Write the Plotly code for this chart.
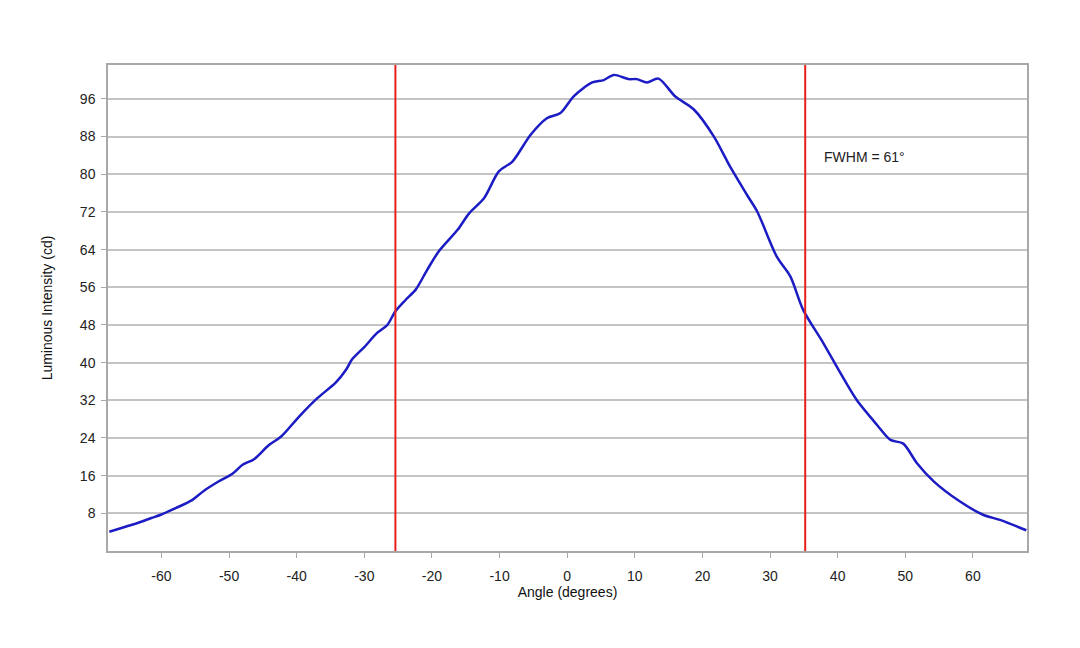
import plotly.graph_objects as go

# Angle (degrees) and luminous intensity (cd)
angle = [-67.7, -65.2, -63.3, -61.5, -60.1, -57.9, -55.6, -53.7, -51.5, -49.5, -48.0, -46.3,
         -44.1, -42.3, -39.6, -36.9, -34.2, -32.7, -31.8, -30.0, -28.1, -26.6, -25.4, -23.9,
         -22.4, -20.7, -19.0, -16.2, -14.5, -12.3, -10.1, -8.1, -5.4, -3.0, -1.0, 1.0,
         3.7, 5.4, 6.9, 9.1, 10.3, 11.8, 13.5, 16.0, 18.7, 21.7, 24.1, 26.6, 28.1, 31.0,
         33.0, 34.9, 37.9, 40.4, 42.8, 45.8, 47.8, 49.7, 51.7, 54.2, 58.1, 61.5, 64.0, 67.9]
intensity = [4.1, 5.2, 6.05, 7.0, 7.7, 9.1, 10.7, 12.8, 14.8, 16.4, 18.3, 19.5,
             22.5, 24.3, 28.6, 32.5, 35.8, 38.5, 40.7, 43.3, 46.3, 48.0, 50.9, 53.3,
             55.5, 59.7, 63.6, 68.2, 71.7, 74.9, 80.6, 82.7, 88.4, 91.9, 93.0, 96.6,
             99.5, 100.0, 101.1, 100.2, 100.2, 99.5, 100.3, 96.5, 93.8, 88.0, 81.6, 75.6, 72.1, 62.5,
             58.3, 51.2, 44.1, 37.8, 32.1, 26.8, 23.6, 22.8, 18.7, 14.8, 10.5, 7.7, 6.6, 4.4]

fwhm_left = -25.4
fwhm_right = 35.2
fwhm_label = "FWHM = 61°"
x_ticks = [-60, -50, -40, -30, -20, -10, 0, 10, 20, 30, 40, 50, 60]
x_tick_labels = ["-60", "-50", "-40", "-30", "-20", "-10", "0", "10", "20", "30", "40", "50", "60"]
y_ticks = [8, 16, 24, 32, 40, 48, 56, 64, 72, 80, 88, 96]
y_tick_labels = ["8", "16", "24", "32", "40", "48", "56", "64", "72", "80", "88", "96"]

font_family = "Liberation Sans, Arial, sans-serif"

fig = go.Figure()
fig.add_trace(go.Scatter(
    x=angle, y=intensity, mode="lines",
    line=dict(color="#1c1cc4", width=2.5, shape="spline", smoothing=0.8),
    showlegend=False, hoverinfo="x+y",
))

for xv in (fwhm_left, fwhm_right):
    fig.add_shape(type="line", xref="x", yref="paper", x0=xv, x1=xv, y0=0, y1=1,
                  line=dict(color="#e8201c", width=2))

fig.add_annotation(x=37.7, y=83.7, xref="x", yref="y", text=fwhm_label,
                   showarrow=False, xanchor="left", yanchor="middle",
                   font=dict(family=font_family, size=14, color="#222222"))

axis_common = dict(
    showline=True, linecolor="#a8a8a8", linewidth=1.5, mirror=True,
    ticks="outside", tickcolor="#a8a8a8", ticklen=5, tickwidth=1,
    tickfont=dict(family=font_family, size=14, color="#222222"),
    zeroline=False,
)

fig.update_xaxes(range=[-67.9, 68.0], tickvals=x_ticks, ticktext=x_tick_labels,
                 showgrid=False, ticklabelstandoff=6,
                 title=dict(text="Angle (degrees)", standoff=4,
                            font=dict(family=font_family, size=14, color="#111111")),
                 **axis_common)
fig.update_yaxes(range=[0, 103.2], tickvals=y_ticks, ticktext=y_tick_labels,
                 showgrid=True, gridcolor="#c4c4c4", gridwidth=1.5, ticklabelstandoff=3,
                 title=dict(text="Luminous Intensity (cd)", standoff=24,
                            font=dict(family=font_family, size=14, color="#111111")),
                 **axis_common)

fig.update_layout(
    width=1080, height=648,
    margin=dict(l=108, r=53, t=65, b=97),
    paper_bgcolor="white", plot_bgcolor="white",
    font=dict(family=font_family),
)

fig.write_html("out.html")
